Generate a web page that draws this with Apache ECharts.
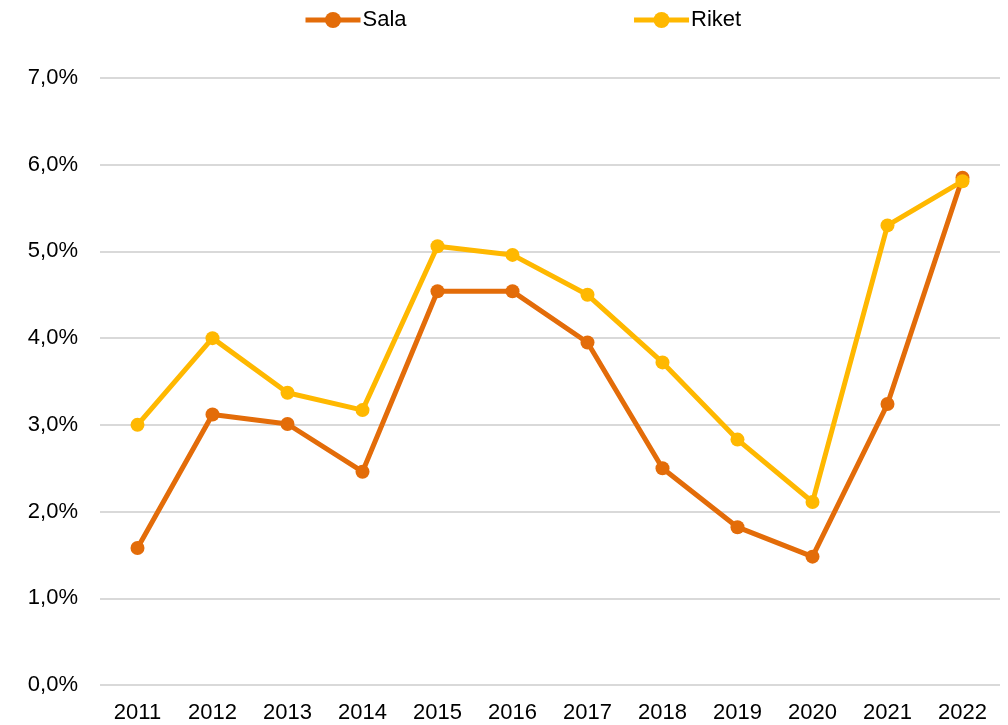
<!DOCTYPE html>
<html>
<head>
<meta charset="utf-8">
<script src="https://cdn.jsdelivr.net/npm/echarts@6/dist/echarts.min.js"></script>
<style>
  html, body { margin: 0; padding: 0; background: #fff; }
  #chart { width: 1008px; height: 725px; }
</style>
</head>
<body>
<div id="chart"></div>
<script>
// år
const years = ['2011', '2012', '2013', '2014', '2015', '2016', '2017', '2018', '2019', '2020', '2021', '2022']
// andel i procent
const sala = [1.58, 3.12, 3.01, 2.46, 4.54, 4.54, 3.95, 2.50, 1.82, 1.48, 3.24, 5.85]
const riket = [3.0, 4.0, 3.37, 3.17, 5.06, 4.96, 4.50, 3.72, 2.83, 2.11, 5.30, 5.81]

const myChart = echarts.init(document.getElementById('chart'))

const lineSeries = (name, data, color) => ({
  name: name,
  type: 'line',
  data: data,
  symbol: 'circle',
  symbolSize: 14,
  lineStyle: { width: 5, color: color },
  itemStyle: { color: color },
  emphasis: { disabled: true },
})

const option = {
  animation: false,
  textStyle: { fontFamily: 'Liberation Sans, Arial, sans-serif' },
  legend: {
    left: 298,
    top: 4,
    itemWidth: 55,
    itemHeight: 20,
    itemGap: 225,
    lineStyle: { width: 5 },
    textStyle: { fontSize: 22, color: '#000', padding: [0, 0, 0, -3] },
    data: ['Sala', 'Riket'],
  },
  grid: {
    left: 100,
    right: 8,
    top: 78,
    bottom: 40,
  },
  xAxis: {
    type: 'category',
    data: years,
    axisLine: { show: false },
    axisTick: { show: false },
    axisLabel: { fontSize: 22, color: '#000', margin: 17 },
  },
  yAxis: {
    type: 'value',
    min: 0,
    max: 7,
    interval: 1,
    axisLabel: {
      fontSize: 22,
      color: '#000',
      margin: 22,
      formatter: (v) => v.toFixed(1).replace('.', ',') + '%',
    },
    splitLine: { lineStyle: { color: '#d9d9d9', width: 2 } },
  },
  series: [
    lineSeries('Sala', sala, '#e36c09'),
    lineSeries('Riket', riket, '#ffb800'),
  ],
}

option && myChart.setOption(option)
</script>
</body>
</html>
